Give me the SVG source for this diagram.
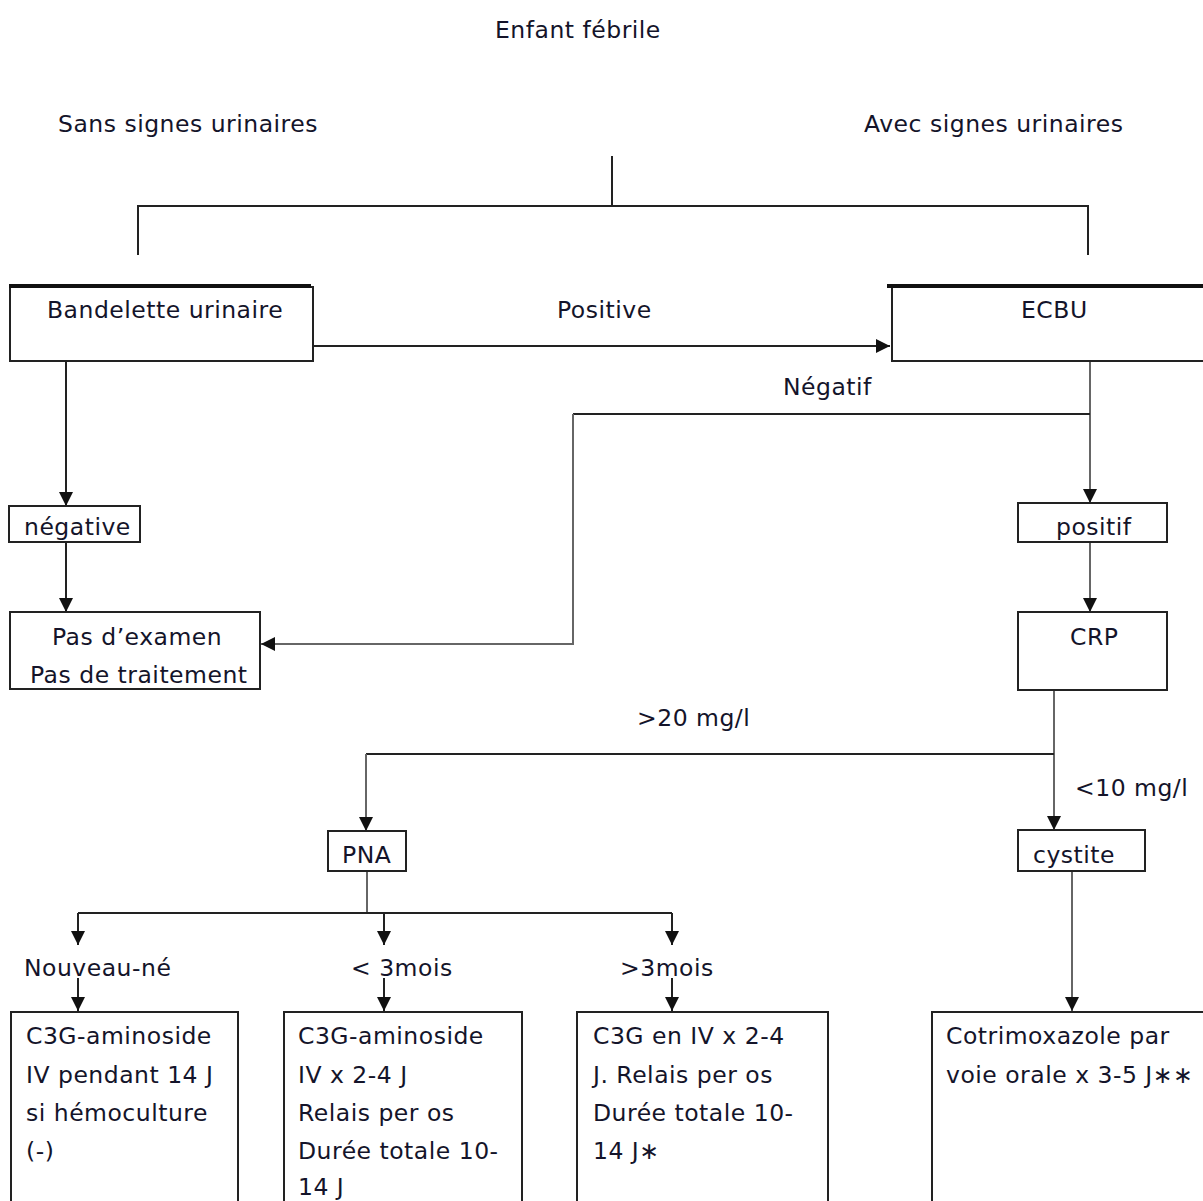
<svg xmlns="http://www.w3.org/2000/svg" width="1203" height="1201" viewBox="0 0 1203 1201">
<style>
text{font-family:"DejaVu Sans","Noto Sans",sans-serif;font-size:23.5px;letter-spacing:0.5px;fill:#14142a}
.box{fill:#fff;stroke:#222;stroke-width:2}
.ln{fill:none;stroke:#222;stroke-width:2}
.gr{fill:none;stroke:#666;stroke-width:2}
.thick{stroke:#111;stroke-width:4}
</style>
<defs>
<marker id="ah" markerUnits="userSpaceOnUse" markerWidth="16" markerHeight="16" refX="14" refY="7" orient="auto">
<path d="M0,0 L14,7 L0,14 z" fill="#111"/>
</marker>
</defs>
<rect width="1203" height="1201" fill="#fff"/>

<text id="t-enfant" x="495" y="38">Enfant fébrile</text>
<text id="t-sans" x="58" y="132">Sans signes urinaires</text>
<text id="t-avec" x="864" y="132">Avec signes urinaires</text>
<text id="t-positive" x="557" y="318">Positive</text>
<text id="t-negatif" x="783" y="395">Négatif</text>
<text id="t-20" x="637" y="726">&gt;20 mg/l</text>
<text id="t-10" x="1075" y="796">&lt;10 mg/l</text>
<text id="t-nn" x="24" y="976">Nouveau-né</text>
<text id="t-lt3" x="351" y="976">&lt; 3mois</text>
<text id="t-gt3" x="620" y="976">&gt;3mois</text>

<g id="connectors">
<path class="ln" d="M612,156 V206"/>
<path class="ln" d="M138,255 V206 H1088 V255"/>
<path class="ln" d="M313,346 H890" marker-end="url(#ah)"/>
<path class="ln" d="M66,361 V506" marker-end="url(#ah)"/>
<path class="ln" d="M66,542 V612" marker-end="url(#ah)"/>
<path class="gr" d="M1090,361 V503" marker-end="url(#ah)"/>
<path class="ln" d="M1090,414 H573"/>
<path class="gr" d="M573,414 V644 H261" marker-end="url(#ah)"/>
<path class="gr" d="M1090,542 V612" marker-end="url(#ah)"/>
<path class="gr" d="M1054,690 V830" marker-end="url(#ah)"/>
<path class="ln" d="M1054,754 H366"/>
<path class="gr" d="M366,754 V831" marker-end="url(#ah)"/>
<path class="gr" d="M367,871 V913"/>
<path class="ln" d="M78,913 H672"/>
<path class="ln" d="M78,913 V945" marker-end="url(#ah)"/>
<path class="ln" d="M384,913 V945" marker-end="url(#ah)"/>
<path class="ln" d="M672,913 V945" marker-end="url(#ah)"/>
<path class="ln" d="M78,978 V1011" marker-end="url(#ah)"/>
<path class="ln" d="M384,978 V1011" marker-end="url(#ah)"/>
<path class="ln" d="M672,978 V1011" marker-end="url(#ah)"/>
<path class="gr" d="M1072,871 V1011" marker-end="url(#ah)"/>
</g>

<g id="n-bandelette">
<rect class="box" x="10" y="287" width="303" height="74"/>
<line class="thick" x1="9" y1="286" x2="311" y2="286"/>
<text x="47" y="318">Bandelette urinaire</text>
</g>
<g id="n-ecbu">
<rect class="box" x="892" y="287" width="320" height="74"/>
<line class="thick" x1="887" y1="286" x2="1203" y2="286"/>
<text x="1021" y="318">ECBU</text>
</g>
<g id="n-negative">
<rect class="box" x="9" y="506" width="131" height="36"/>
<text x="24" y="535">négative</text>
</g>
<g id="n-pas">
<rect class="box" x="10" y="612" width="250" height="77"/>
<text x="52" y="645">Pas d’examen</text>
<text x="30" y="683">Pas de traitement</text>
</g>
<g id="n-positif">
<rect class="box" x="1018" y="503" width="149" height="39"/>
<text x="1056" y="535">positif</text>
</g>
<g id="n-crp">
<rect class="box" x="1018" y="612" width="149" height="78"/>
<text x="1070" y="645">CRP</text>
</g>
<g id="n-pna">
<rect class="box" x="328" y="831" width="78" height="40"/>
<text x="342" y="863">PNA</text>
</g>
<g id="n-cystite">
<rect class="box" x="1018" y="830" width="127" height="41"/>
<text x="1033" y="863">cystite</text>
</g>
<g id="n-nn">
<rect class="box" x="11" y="1012" width="227" height="220"/>
<text x="26" y="1044">C3G-aminoside</text>
<text x="26" y="1083">IV pendant 14 J</text>
<text x="26" y="1121">si hémoculture</text>
<text x="26" y="1159">(-)</text>
</g>
<g id="n-lt3">
<rect class="box" x="284" y="1012" width="238" height="220"/>
<text x="298" y="1044">C3G-aminoside</text>
<text x="298" y="1083">IV x 2-4 J</text>
<text x="298" y="1121">Relais per os</text>
<text x="298" y="1159">Durée totale 10-</text>
<text x="298" y="1195">14 J</text>
</g>
<g id="n-gt3">
<rect class="box" x="577" y="1012" width="251" height="220"/>
<text x="593" y="1044">C3G en IV x 2-4</text>
<text x="593" y="1083">J. Relais per os</text>
<text x="593" y="1121">Durée totale 10-</text>
<text x="593" y="1159">14 J∗</text>
</g>
<g id="n-cotri">
<rect class="box" x="932" y="1012" width="290" height="220"/>
<text x="946" y="1044">Cotrimoxazole par</text>
<text x="946" y="1083">voie orale x 3-5 J∗∗</text>
</g>
</svg>
